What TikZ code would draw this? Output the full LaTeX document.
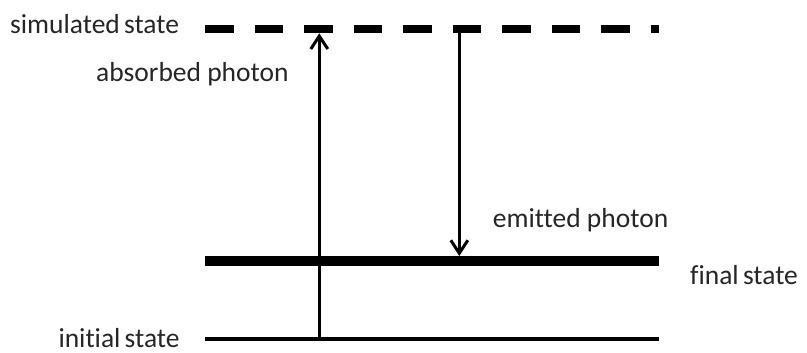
\documentclass[tikz,border=0pt]{standalone}
\usepackage{fontspec}
\setmainfont{Carlito}[Ligatures=NoCommon]
\usetikzlibrary{arrows.meta}
\definecolor{labelgray}{HTML}{262626}
\tikzset{
  lbl/.style={anchor=base west, inner sep=0pt, text=labelgray,
              font=\fontsize{27.5}{33}\selectfont},
  level/.style={line cap=butt},
  photon/.style={line width=3pt, -{Straight Barb[length=13pt,width=17pt,line width=3pt]}},
}
\begin{document}
\begin{tikzpicture}[x=1pt,y=-1pt]
  \useasboundingbox (0,0) rectangle (807,353);

  % energy levels
  \coordinate (sim-l) at (205,29.3);
  \coordinate (sim-r) at (658.5,29.3);
  \coordinate (fin-l) at (205,261);
  \coordinate (fin-r) at (658.5,261);
  \coordinate (ini-l) at (205,338.7);
  \coordinate (ini-r) at (658.5,338.7);

  \draw[level, line width=8pt, dash pattern=on 28.7pt off 20.8pt] (sim-l) -- (sim-r);
  \draw[level, line width=10pt] (fin-l) -- (fin-r);
  \draw[level, line width=4pt] (ini-l) -- (ini-r);

  % photon transitions
  \coordinate (abs-from) at (319.3,338.7);
  \coordinate (abs-to)   at (319.3,33.3);
  \coordinate (emi-from) at (459.3,29.3);
  \coordinate (emi-to)   at (459.3,256);
  \draw[photon] (abs-from) -- (abs-to);
  \draw[photon] (emi-from) -- (emi-to);

  % labels
  \node[lbl] (sim-txt) at (10,33.3)   {simulated\hspace{-2pt} state};
  \node[lbl] (abs-txt) at (96,81.7)   {absorbed photon};
  \node[lbl] (emi-txt) at (492.7,227.3) {emitted photon};
  \node[lbl] (fin-txt) at (690,284.3) {final\hspace{-2pt} state};
  \node[lbl] (ini-txt) at (58.3,347.5) {initial\hspace{-2pt} state};
\end{tikzpicture}
\end{document}
